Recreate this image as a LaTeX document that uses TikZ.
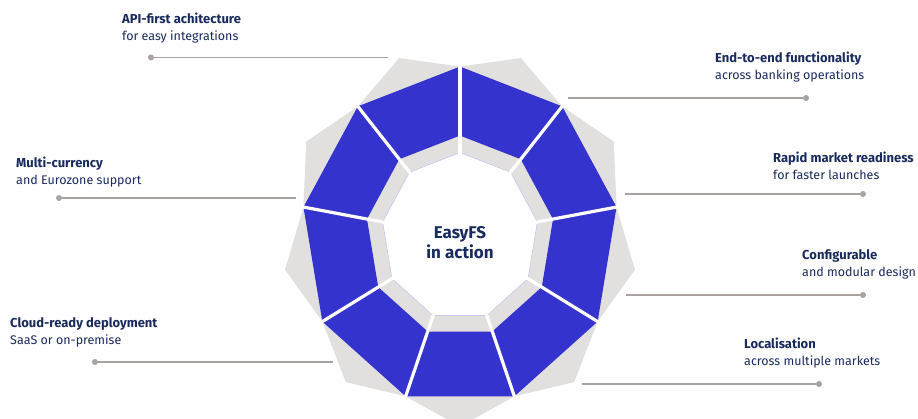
\documentclass[tikz,border=0pt]{standalone}
\usepackage{fontspec}
\setmainfont{Fira Sans}
\usetikzlibrary{positioning}
\definecolor{segblue}{HTML}{3533CD}
\definecolor{seggray}{HTML}{E2E0DF}
\definecolor{navy}{HTML}{182A5E}
\definecolor{leadgray}{HTML}{A8A3A0}
\definecolor{lavender}{HTML}{C9C7F2}
\tikzset{
  x = 1pt, y = 1pt,
  title/.style = {font=\fontsize{13}{15}\selectfont\bfseries, text=navy,
    inner sep=0pt, anchor=base west},
  subtitle/.style = {font=\fontsize{12.5}{15}\selectfont, text=navy,
    inner sep=0pt, anchor=base west},
  dot/.style = {circle, fill=leadgray, inner sep=0pt, minimum size=6pt},
  leader/.style = {leadgray, line width=1.6pt},
  gap/.style = {white, line width=3.2pt},
}

\begin{document}
\begin{tikzpicture}
\useasboundingbox (0,0) rectangle (918,419);
\clip (0,0) rectangle (918,419);

% the ring of nine blocks
\begin{scope}[shift={(460,182.4)}, xscale=0.935]
  \foreach \k in {0,...,8} {
    \pgfmathsetmacro\a{90+40*\k}
    \pgfmathsetmacro\b{130+40*\k}
    \pgfmathsetmacro\m{110+40*\k}
    \fill[seggray] (\a:84) -- (\a:170) -- (\m:190) -- (\b:170) -- (\b:84) -- cycle;
    \fill[segblue] (\a:101) -- (\a:170) -- (\b:170) -- (\b:101) -- cycle;
    \draw[lavender, line width=0.6pt] (\a:84) -- (\b:84);
  }
  \foreach \k in {0,...,8}
    \draw[gap] (90+40*\k:80) -- (90+40*\k:176);
\end{scope}

\node[align=center, text=navy, font=\fontsize{17}{20}\selectfont\bfseries]
  (core) at (460,176) {EasyFS\\in action};

% left side
\node[title] (apititle) at (122,395) {API-first achitecture};
\node[subtitle] (apisub) at ([yshift=-17pt]apititle.base west) {for easy integrations};
\node[dot] (apidot) at (151,361.5) {};
\coordinate (apiend) at (388,361.5);
\draw[leader] (apidot) -- (apiend);

\node[title] (multititle) at (16,251.5) {Multi-currency};
\node[subtitle] (multisub) at ([yshift=-17pt]multititle.base west) {and Eurozone support};
\node[dot] (multidot) at (59,221) {};
\coordinate (multiend) at (296,221);
\draw[leader] (multidot) -- (multiend);

\node[title] (cloudtitle) at (10,91) {Cloud-ready deployment};
\node[subtitle] (cloudsub) at ([yshift=-17pt]cloudtitle.base west) {SaaS or on-premise};
\node[dot] (clouddot) at (95,57) {};
\coordinate (cloudend) at (333,57);
\draw[leader] (clouddot) -- (cloudend);

% right side
\node[title] (endtitle) at (715,356) {End-to-end functionality};
\node[subtitle] (endsub) at ([yshift=-17pt]endtitle.base west) {across banking operations};
\node[dot] (enddot) at (806,321) {};
\coordinate (endstart) at (568,321);
\draw[leader] (endstart) -- (enddot);

\node[title] (rapidtitle) at (773,256) {Rapid market readiness};
\node[subtitle] (rapidsub) at ([yshift=-17pt]rapidtitle.base west) {for faster launches};
\node[dot] (rapiddot) at (863,225) {};
\coordinate (rapidstart) at (625,225);
\draw[leader] (rapidstart) -- (rapiddot);

\node[title] (conftitle) at (802,159) {Configurable};
\node[subtitle] (confsub) at ([yshift=-17pt]conftitle.base west) {and modular design};
\node[dot] (confdot) at (863,124) {};
\coordinate (confstart) at (626,124);
\draw[leader] (confstart) -- (confdot);

\node[title] (localtitle) at (744,70) {Localisation};
\node[subtitle] (localsub) at ([yshift=-17pt]localtitle.base west) {across multiple markets};
\node[dot] (localdot) at (819,35) {};
\coordinate (localstart) at (582,35);
\draw[leader] (localstart) -- (localdot);
\end{tikzpicture}
\end{document}
